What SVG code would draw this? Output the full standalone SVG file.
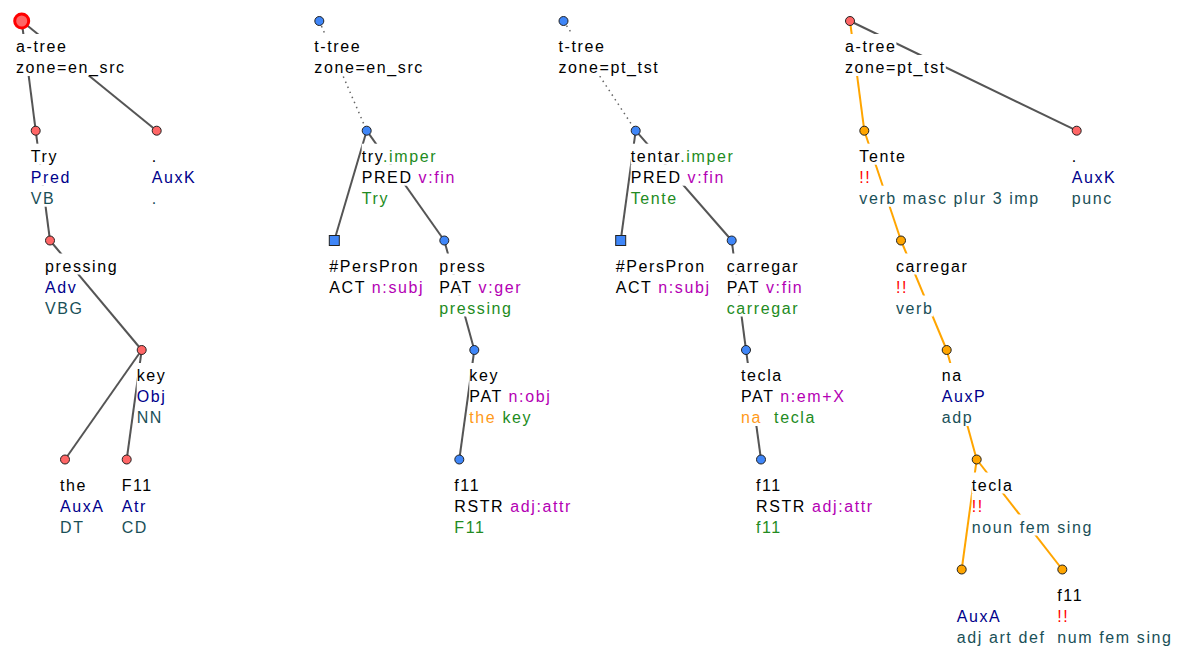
<svg xmlns="http://www.w3.org/2000/svg" width="1180" height="646" viewBox="0 0 1180 646">
<style>
text{font-family:"Liberation Sans",Arial,sans-serif;font-size:16px;letter-spacing:1.6px;fill:#000}
.af{fill:#00008b}.tg{fill:#1a5058}.gr{fill:#228b22}.mg{fill:#b400b4}.or{fill:#ff9a1a}.rd{fill:#ff0000}
.bg{fill:#fff}
.e{stroke:#555;stroke-width:2;fill:none}
.eo{stroke:#ffa500;stroke-width:2;fill:none}
.ed{stroke:#666;stroke-width:1.5;stroke-dasharray:1.5 4;fill:none}
.na{fill:#f66;stroke:#222;stroke-width:1}
.nt{fill:#3f86f8;stroke:#222;stroke-width:1}
.no{fill:#ffa500;stroke:#222;stroke-width:1}
.sel{fill:#f66;stroke:#f00;stroke-width:3}
</style>
<rect width="1180" height="646" fill="#fff"/>
<g id="connectors">
<line class="e" x1="21.7" y1="21" x2="35.7" y2="130.7"/>
<line class="e" x1="21.7" y1="21" x2="156.7" y2="130.7"/>
<line class="e" x1="35.7" y1="130.7" x2="50" y2="240.5"/>
<line class="e" x1="50" y1="240.5" x2="141.7" y2="350"/>
<line class="e" x1="141.7" y1="350" x2="65" y2="459.5"/>
<line class="e" x1="141.7" y1="350" x2="126.7" y2="459.5"/>
<line class="ed" x1="319.3" y1="21" x2="366.7" y2="130.7"/>
<line class="e" x1="366.7" y1="130.7" x2="334.3" y2="240.5"/>
<line class="e" x1="366.7" y1="130.7" x2="444.3" y2="240.5"/>
<line class="e" x1="444.3" y1="240.5" x2="474.3" y2="350"/>
<line class="e" x1="474.3" y1="350" x2="459.3" y2="459.5"/>
<line class="ed" x1="563.5" y1="21" x2="635.7" y2="130.7"/>
<line class="e" x1="635.7" y1="130.7" x2="620.7" y2="240.5"/>
<line class="e" x1="635.7" y1="130.7" x2="731.7" y2="240.5"/>
<line class="e" x1="731.7" y1="240.5" x2="746" y2="350"/>
<line class="e" x1="746" y1="350" x2="761" y2="459.5"/>
<line class="eo" x1="850" y1="21" x2="864.3" y2="130.7"/>
<line class="e" x1="850" y1="21" x2="1076.7" y2="130.7"/>
<line class="eo" x1="864.3" y1="130.7" x2="901" y2="240.5"/>
<line class="eo" x1="901" y1="240.5" x2="946.7" y2="350"/>
<line class="eo" x1="946.7" y1="350" x2="976.7" y2="459.5"/>
<line class="eo" x1="976.7" y1="459.5" x2="961.7" y2="569.5"/>
<line class="eo" x1="976.7" y1="459.5" x2="1062.3" y2="569.5"/>
</g>

<g id="a1root">
<circle class="sel" cx="21.7" cy="21" r="7"/>
<rect class="bg" x="16" y="34" width="51.4" height="21"/>
<rect class="bg" x="16" y="55" width="109.6" height="21"/>
<text x="16" y="52">a-tree</text>
<text x="16" y="73">zone=en_src</text>
</g>
<g id="a1try">
<circle class="na" cx="35.7" cy="130.7" r="4.5"/>
<rect class="bg" x="30.7" y="143.7" width="27.9" height="21"/>
<rect class="bg" x="30.7" y="164.7" width="40.2" height="21"/>
<rect class="bg" x="30.7" y="185.7" width="24.5" height="21"/>
<text x="30.7" y="161.7">Try</text>
<text x="30.7" y="182.7" class="af">Pred</text>
<text x="30.7" y="203.7" class="tg">VB</text>
</g>
<g id="a1dot">
<circle class="na" cx="156.7" cy="130.7" r="4.5"/>
<rect class="bg" x="151.7" y="143.7" width="6" height="21"/>
<rect class="bg" x="151.7" y="164.7" width="44.6" height="21"/>
<rect class="bg" x="151.7" y="185.7" width="6" height="21"/>
<text x="151.7" y="161.7">.</text>
<text x="151.7" y="182.7" class="af">AuxK</text>
<text x="151.7" y="203.7" class="tg">.</text>
</g>
<g id="a1pressing">
<circle class="na" cx="50" cy="240.5" r="4.5"/>
<rect class="bg" x="45" y="253.5" width="73.3" height="21"/>
<rect class="bg" x="45" y="274.5" width="32.4" height="21"/>
<rect class="bg" x="45" y="295.5" width="38.6" height="21"/>
<text x="45" y="271.5">pressing</text>
<text x="45" y="292.5" class="af">Adv</text>
<text x="45" y="313.5" class="tg">VBG</text>
</g>
<g id="a1key">
<circle class="na" cx="141.7" cy="350" r="4.5"/>
<rect class="bg" x="136.7" y="363" width="29.7" height="21"/>
<rect class="bg" x="136.7" y="384" width="29.7" height="21"/>
<rect class="bg" x="136.7" y="405" width="26.3" height="21"/>
<text x="136.7" y="381">key</text>
<text x="136.7" y="402" class="af">Obj</text>
<text x="136.7" y="423" class="tg">NN</text>
</g>
<g id="a1the">
<circle class="na" cx="65" cy="459.5" r="4.5"/>
<rect class="bg" x="60" y="472.5" width="27" height="21"/>
<rect class="bg" x="60" y="493.5" width="44.6" height="21"/>
<rect class="bg" x="60" y="514.5" width="24.5" height="21"/>
<text x="60" y="490.5">the</text>
<text x="60" y="511.5" class="af">AuxA</text>
<text x="60" y="532.5" class="tg">DT</text>
</g>
<g id="a1f11">
<circle class="na" cx="126.7" cy="459.5" r="4.5"/>
<rect class="bg" x="121.7" y="472.5" width="32.4" height="21"/>
<rect class="bg" x="121.7" y="493.5" width="25.2" height="21"/>
<rect class="bg" x="121.7" y="514.5" width="26.3" height="21"/>
<text x="121.7" y="490.5">F11</text>
<text x="121.7" y="511.5" class="af">Atr</text>
<text x="121.7" y="532.5" class="tg">CD</text>
</g>

<g id="t1root">
<circle class="nt" cx="319.3" cy="21" r="4.5"/>
<rect class="bg" x="314.3" y="34" width="46.9" height="21"/>
<rect class="bg" x="314.3" y="55" width="109.6" height="21"/>
<text x="314.3" y="52">t-tree</text>
<text x="314.3" y="73">zone=en_src</text>
</g>
<g id="t1try">
<circle class="nt" cx="366.7" cy="130.7" r="4.5"/>
<rect class="bg" x="361.7" y="143.7" width="76.6" height="21"/>
<rect class="bg" x="361.7" y="164.7" width="94.2" height="21"/>
<rect class="bg" x="361.7" y="185.7" width="27.9" height="21"/>
<text x="361.7" y="161.7">try<tspan class="gr">.imper</tspan></text>
<text x="361.7" y="182.7">PRED<tspan class="mg"> v:fin</tspan></text>
<text x="361.7" y="203.7" class="gr">Try</text>
</g>
<g id="t1perspron">
<rect class="nt" x="329.3" y="235.5" width="10" height="10"/>
<rect class="bg" x="329.3" y="253.5" width="90" height="21"/>
<rect class="bg" x="329.3" y="274.5" width="95.1" height="21"/>
<text x="329.3" y="271.5">#PersPron</text>
<text x="329.3" y="292.5">ACT<tspan class="mg"> n:subj</tspan></text>
</g>
<g id="t1press">
<circle class="nt" cx="444.3" cy="240.5" r="4.5"/>
<rect class="bg" x="439.3" y="253.5" width="47.1" height="21"/>
<rect class="bg" x="439.3" y="274.5" width="85.5" height="21"/>
<rect class="bg" x="439.3" y="295.5" width="73.3" height="21"/>
<text x="439.3" y="271.5">press</text>
<text x="439.3" y="292.5">PAT<tspan class="mg"> v:ger</tspan></text>
<text x="439.3" y="313.5" class="gr">pressing</text>
</g>
<g id="t1key">
<circle class="nt" cx="474.3" cy="350" r="4.5"/>
<rect class="bg" x="469.3" y="363" width="29.7" height="21"/>
<rect class="bg" x="469.3" y="384" width="84.6" height="21"/>
<rect class="bg" x="469.3" y="405" width="62.7" height="21"/>
<text x="469.3" y="381">key</text>
<text x="469.3" y="402">PAT<tspan class="mg"> n:obj</tspan></text>
<text x="469.3" y="423"><tspan class="or">the</tspan><tspan class="gr"> key</tspan></text>
</g>
<g id="t1f11">
<circle class="nt" cx="459.3" cy="459.5" r="4.5"/>
<rect class="bg" x="454.3" y="472.5" width="27" height="21"/>
<rect class="bg" x="454.3" y="493.5" width="117.8" height="21"/>
<rect class="bg" x="454.3" y="514.5" width="32.4" height="21"/>
<text x="454.3" y="490.5">f11</text>
<text x="454.3" y="511.5">RSTR<tspan class="mg"> adj:attr</tspan></text>
<text x="454.3" y="532.5" class="gr">F11</text>
</g>

<g id="t2root">
<circle class="nt" cx="563.5" cy="21" r="4.5"/>
<rect class="bg" x="558.5" y="34" width="46.9" height="21"/>
<rect class="bg" x="558.5" y="55" width="100.8" height="21"/>
<text x="558.5" y="52">t-tree</text>
<text x="558.5" y="73">zone=pt_tst</text>
</g>
<g id="t2tentar">
<circle class="nt" cx="635.7" cy="130.7" r="4.5"/>
<rect class="bg" x="630.7" y="143.7" width="104.5" height="21"/>
<rect class="bg" x="630.7" y="164.7" width="94.2" height="21"/>
<rect class="bg" x="630.7" y="185.7" width="48.9" height="21"/>
<text x="630.7" y="161.7">tentar<tspan class="gr">.imper</tspan></text>
<text x="630.7" y="182.7">PRED<tspan class="mg"> v:fin</tspan></text>
<text x="630.7" y="203.7" class="gr">Tente</text>
</g>
<g id="t2perspron">
<rect class="nt" x="615.7" y="235.5" width="10" height="10"/>
<rect class="bg" x="615.7" y="253.5" width="90" height="21"/>
<rect class="bg" x="615.7" y="274.5" width="95.1" height="21"/>
<text x="615.7" y="271.5">#PersPron</text>
<text x="615.7" y="292.5">ACT<tspan class="mg"> n:subj</tspan></text>
</g>
<g id="t2carregar">
<circle class="nt" cx="731.7" cy="240.5" r="4.5"/>
<rect class="bg" x="726.7" y="253.5" width="72.4" height="21"/>
<rect class="bg" x="726.7" y="274.5" width="79.3" height="21"/>
<rect class="bg" x="726.7" y="295.5" width="72.4" height="21"/>
<text x="726.7" y="271.5">carregar</text>
<text x="726.7" y="292.5">PAT<tspan class="mg"> v:fin</tspan></text>
<text x="726.7" y="313.5" class="gr">carregar</text>
</g>
<g id="t2tecla">
<circle class="nt" cx="746" cy="350" r="4.5"/>
<rect class="bg" x="741" y="363" width="41.8" height="21"/>
<rect class="bg" x="741" y="384" width="107.1" height="21"/>
<rect class="bg" x="741" y="405" width="74.9" height="21"/>
<text x="741" y="381">tecla</text>
<text x="741" y="402">PAT<tspan class="mg"> n:em+X</tspan></text>
<text x="741" y="423" xml:space="preserve"><tspan class="or">na</tspan><tspan class="gr">  tecla</tspan></text>
</g>
<g id="t2f11">
<circle class="nt" cx="761" cy="459.5" r="4.5"/>
<rect class="bg" x="756" y="472.5" width="27" height="21"/>
<rect class="bg" x="756" y="493.5" width="117.8" height="21"/>
<rect class="bg" x="756" y="514.5" width="27" height="21"/>
<text x="756" y="490.5">f11</text>
<text x="756" y="511.5">RSTR<tspan class="mg"> adj:attr</tspan></text>
<text x="756" y="532.5" class="gr">f11</text>
</g>

<g id="a2root">
<circle class="na" cx="850" cy="21" r="4.5"/>
<rect class="bg" x="845" y="34" width="51.4" height="21"/>
<rect class="bg" x="845" y="55" width="100.8" height="21"/>
<text x="845" y="52">a-tree</text>
<text x="845" y="73">zone=pt_tst</text>
</g>
<g id="a2tente">
<circle class="no" cx="864.3" cy="130.7" r="4.5"/>
<rect class="bg" x="859.3" y="143.7" width="48.9" height="21"/>
<rect class="bg" x="859.3" y="164.7" width="12.1" height="21"/>
<rect class="bg" x="859.3" y="185.7" width="180.5" height="21"/>
<text x="859.3" y="161.7">Tente</text>
<text x="859.3" y="182.7" class="rd">!!</text>
<text x="859.3" y="203.7" class="tg">verb masc plur 3 imp</text>
</g>
<g id="a2auxk">
<circle class="na" cx="1076.7" cy="130.7" r="4.5"/>
<rect class="bg" x="1071.7" y="143.7" width="6" height="21"/>
<rect class="bg" x="1071.7" y="164.7" width="44.6" height="21"/>
<rect class="bg" x="1071.7" y="185.7" width="41.1" height="21"/>
<text x="1071.7" y="161.7">.</text>
<text x="1071.7" y="182.7" class="af">AuxK</text>
<text x="1071.7" y="203.7" class="tg">punc</text>
</g>
<g id="a2carregar">
<circle class="no" cx="901" cy="240.5" r="4.5"/>
<rect class="bg" x="896" y="253.5" width="72.4" height="21"/>
<rect class="bg" x="896" y="274.5" width="12.1" height="21"/>
<rect class="bg" x="896" y="295.5" width="37.5" height="21"/>
<text x="896" y="271.5">carregar</text>
<text x="896" y="292.5" class="rd">!!</text>
<text x="896" y="313.5" class="tg">verb</text>
</g>
<g id="a2na">
<circle class="no" cx="946.7" cy="350" r="4.5"/>
<rect class="bg" x="941.7" y="363" width="21" height="21"/>
<rect class="bg" x="941.7" y="384" width="44.6" height="21"/>
<rect class="bg" x="941.7" y="405" width="31.5" height="21"/>
<text x="941.7" y="381">na</text>
<text x="941.7" y="402" class="af">AuxP</text>
<text x="941.7" y="423" class="tg">adp</text>
</g>
<g id="a2tecla">
<circle class="no" cx="976.7" cy="459.5" r="4.5"/>
<rect class="bg" x="971.7" y="472.5" width="41.8" height="21"/>
<rect class="bg" x="971.7" y="493.5" width="12.1" height="21"/>
<rect class="bg" x="971.7" y="514.5" width="121.3" height="21"/>
<text x="971.7" y="490.5">tecla</text>
<text x="971.7" y="511.5" class="rd">!!</text>
<text x="971.7" y="532.5" class="tg">noun fem sing</text>
</g>
<g id="a2auxa">
<circle class="no" cx="961.7" cy="569.5" r="4.5"/>
<rect class="bg" x="956.7" y="603.5" width="44.6" height="21"/>
<rect class="bg" x="956.7" y="624.5" width="88.8" height="21"/>
<text x="956.7" y="621.5" class="af">AuxA</text>
<text x="956.7" y="642.5" class="tg">adj art def</text>
</g>
<g id="a2f11">
<circle class="no" cx="1062.3" cy="569.5" r="4.5"/>
<rect class="bg" x="1057.3" y="582.5" width="27" height="21"/>
<rect class="bg" x="1057.3" y="603.5" width="12.1" height="21"/>
<rect class="bg" x="1057.3" y="624.5" width="115.2" height="21"/>
<text x="1057.3" y="600.5">f11</text>
<text x="1057.3" y="621.5" class="rd">!!</text>
<text x="1057.3" y="642.5" class="tg">num fem sing</text>
</g>
</svg>
